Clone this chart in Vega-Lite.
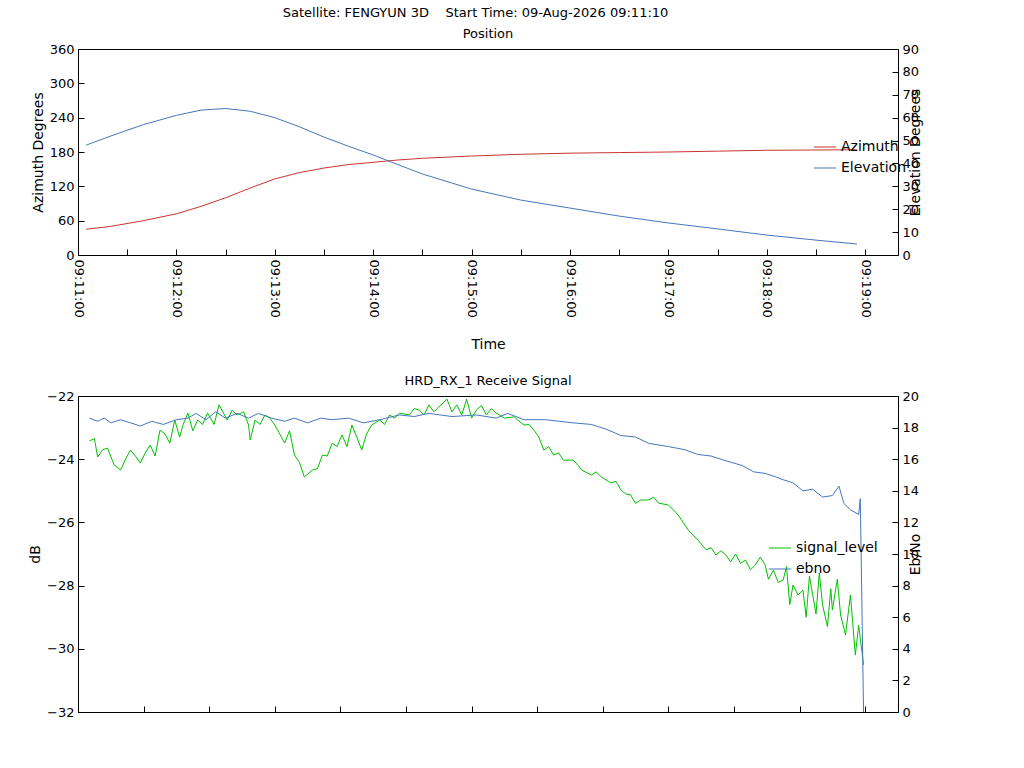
{
  "$schema": "https://vega.github.io/schema/vega-lite/v6.json",
  "background": "white",
  "padding": {"left": 28, "top": 6, "right": 5, "bottom": 0},
  "title": {"text": "Satellite: FENGYUN 3D\u00a0\u00a0\u00a0\u00a0Start Time: 09-Aug-2026 09:11:10", "anchor": "middle", "fontSize": 13, "fontWeight": "normal", "font": "DejaVu Sans", "offset": 8},
  "config": {
    "font": "DejaVu Sans",
    "view": {"stroke": "black", "strokeWidth": 1},
    "axis": {"grid": false, "domain": false, "tickColor": "black", "tickSize": -6, "labelPadding": 10, "labelFontSize": 13, "labelColor": "black", "titleFontSize": 14, "titleFontWeight": "normal", "titleColor": "black"},
    "title": {"fontSize": 13, "fontWeight": "normal", "offset": 2},
    "legend": {"labelFontSize": 14, "symbolType": "stroke", "symbolStrokeWidth": 1, "symbolSize": 500, "labelColor": "black"}
  },
  "datasets": {
    "pos": [
      {"t": 5, "az": 45, "el": 48},
      {"t": 20, "az": 50, "el": 52},
      {"t": 40, "az": 60, "el": 57},
      {"t": 60, "az": 72, "el": 61},
      {"t": 75, "az": 85, "el": 63.3},
      {"t": 90, "az": 100, "el": 64},
      {"t": 105, "az": 117, "el": 62.8},
      {"t": 120, "az": 133, "el": 60},
      {"t": 135, "az": 144, "el": 56},
      {"t": 150, "az": 152, "el": 51.5},
      {"t": 165, "az": 158, "el": 47.5},
      {"t": 180, "az": 162, "el": 43.7},
      {"t": 195, "az": 166, "el": 39.5},
      {"t": 210, "az": 169, "el": 35.4},
      {"t": 240, "az": 173, "el": 28.8},
      {"t": 270, "az": 176, "el": 24},
      {"t": 300, "az": 178, "el": 20.5},
      {"t": 330, "az": 179, "el": 17},
      {"t": 360, "az": 180, "el": 14},
      {"t": 390, "az": 181.5, "el": 11.4},
      {"t": 420, "az": 183, "el": 8.7},
      {"t": 450, "az": 183.5, "el": 6.5},
      {"t": 475, "az": 184, "el": 4.8}
    ],
    "sig": [
      {"t": 7, "db": -23.42}, {"t": 10, "db": -23.35}, {"t": 12, "db": -23.93}, {"t": 15, "db": -23.7}, {"t": 18, "db": -23.65}, {"t": 22, "db": -24.18},
      {"t": 26, "db": -24.34}, {"t": 29, "db": -24.0}, {"t": 32, "db": -23.71}, {"t": 35, "db": -23.9}, {"t": 38, "db": -24.12}, {"t": 41, "db": -23.8}, {"t": 44, "db": -23.55},
      {"t": 47, "db": -23.9}, {"t": 50, "db": -23.08}, {"t": 53, "db": -23.2}, {"t": 56, "db": -23.49}, {"t": 59, "db": -22.76}, {"t": 62, "db": -23.3}, {"t": 64, "db": -22.92},
      {"t": 67, "db": -22.54}, {"t": 70, "db": -23.1}, {"t": 73, "db": -22.76}, {"t": 76, "db": -22.9}, {"t": 79, "db": -22.54}, {"t": 83, "db": -22.9}, {"t": 86, "db": -22.28},
      {"t": 91, "db": -22.76}, {"t": 94, "db": -22.45}, {"t": 97, "db": -22.6}, {"t": 101, "db": -22.5}, {"t": 104, "db": -22.92}, {"t": 105, "db": -23.39},
      {"t": 108, "db": -22.76}, {"t": 111, "db": -22.9}, {"t": 114, "db": -22.6}, {"t": 117, "db": -22.7}, {"t": 120, "db": -22.92}, {"t": 123, "db": -23.2}, {"t": 126, "db": -23.49},
      {"t": 129, "db": -23.1}, {"t": 132, "db": -23.87}, {"t": 135, "db": -24.1}, {"t": 138, "db": -24.56}, {"t": 143, "db": -24.34}, {"t": 146, "db": -24.3}, {"t": 149, "db": -23.87},
      {"t": 152, "db": -23.9}, {"t": 155, "db": -23.49}, {"t": 158, "db": -23.6}, {"t": 161, "db": -23.23}, {"t": 164, "db": -23.6}, {"t": 167, "db": -22.92}, {"t": 170, "db": -23.3}, {"t": 173, "db": -23.71},
      {"t": 176, "db": -23.2}, {"t": 179, "db": -22.92}, {"t": 184, "db": -22.76}, {"t": 187, "db": -22.9}, {"t": 190, "db": -22.6}, {"t": 193, "db": -22.7}, {"t": 196, "db": -22.54},
      {"t": 202, "db": -22.6}, {"t": 205, "db": -22.4}, {"t": 208, "db": -22.44}, {"t": 211, "db": -22.6}, {"t": 214, "db": -22.28}, {"t": 217, "db": -22.5}, {"t": 220, "db": -22.35},
      {"t": 225, "db": -22.1}, {"t": 228, "db": -22.5}, {"t": 231, "db": -22.28}, {"t": 234, "db": -22.6}, {"t": 237, "db": -22.1}, {"t": 240, "db": -22.7}, {"t": 243, "db": -22.44},
      {"t": 246, "db": -22.3}, {"t": 249, "db": -22.6}, {"t": 252, "db": -22.4}, {"t": 255, "db": -22.54}, {"t": 260, "db": -22.7}, {"t": 266, "db": -22.66}, {"t": 269, "db": -22.8}, {"t": 272, "db": -22.92},
      {"t": 275, "db": -22.9}, {"t": 278, "db": -23.08}, {"t": 281, "db": -23.3}, {"t": 284, "db": -23.71}, {"t": 287, "db": -23.6}, {"t": 290, "db": -23.87}, {"t": 293, "db": -23.8}, {"t": 296, "db": -24.03},
      {"t": 302, "db": -24.03}, {"t": 305, "db": -24.2}, {"t": 307, "db": -24.34}, {"t": 313, "db": -24.5}, {"t": 316, "db": -24.4}, {"t": 319, "db": -24.56},
      {"t": 325, "db": -24.75}, {"t": 328, "db": -24.7}, {"t": 331, "db": -24.97}, {"t": 334, "db": -25.1}, {"t": 337, "db": -25.13}, {"t": 340, "db": -25.4}, {"t": 343, "db": -25.29},
      {"t": 348, "db": -25.29}, {"t": 351, "db": -25.2}, {"t": 354, "db": -25.39}, {"t": 360, "db": -25.45}, {"t": 363, "db": -25.6}, {"t": 366, "db": -25.77},
      {"t": 372, "db": -26.24}, {"t": 375, "db": -26.4}, {"t": 378, "db": -26.56}, {"t": 383, "db": -26.87}, {"t": 386, "db": -26.8}, {"t": 389, "db": -27.03},
      {"t": 392, "db": -26.9}, {"t": 395, "db": -27.03}, {"t": 398, "db": -27.25}, {"t": 401, "db": -27.0}, {"t": 404, "db": -27.3}, {"t": 407, "db": -27.19}, {"t": 410, "db": -27.5}, {"t": 413, "db": -27.35},
      {"t": 416, "db": -27.1}, {"t": 419, "db": -27.35}, {"t": 421, "db": -27.8}, {"t": 424, "db": -27.51}, {"t": 427, "db": -27.9}, {"t": 430, "db": -27.82}, {"t": 432, "db": -27.4}, {"t": 434, "db": -28.6},
      {"t": 436, "db": -27.98}, {"t": 439, "db": -28.3}, {"t": 442, "db": -28.14}, {"t": 444, "db": -29.0}, {"t": 446, "db": -27.7}, {"t": 448, "db": -28.3},
      {"t": 450, "db": -28.9}, {"t": 452, "db": -27.6}, {"t": 454, "db": -28.61}, {"t": 457, "db": -29.3}, {"t": 459, "db": -28.1}, {"t": 460, "db": -28.77},
      {"t": 463, "db": -27.8}, {"t": 465, "db": -28.93}, {"t": 468, "db": -29.56}, {"t": 471, "db": -28.3},
      {"t": 474, "db": -30.2}, {"t": 476, "db": -29.25}, {"t": 479, "db": -30.51}
    ],
    "eb": [
      {"t": 7, "ebno": 18.6}, {"t": 12, "ebno": 18.4}, {"t": 16, "ebno": 18.6}, {"t": 20, "ebno": 18.3}, {"t": 26, "ebno": 18.5}, {"t": 32, "ebno": 18.3}, {"t": 38, "ebno": 18.1},
      {"t": 45, "ebno": 18.4}, {"t": 52, "ebno": 18.2}, {"t": 60, "ebno": 18.5}, {"t": 67, "ebno": 18.6}, {"t": 72, "ebno": 18.9}, {"t": 78, "ebno": 18.5}, {"t": 84, "ebno": 19.0},
      {"t": 90, "ebno": 18.6}, {"t": 97, "ebno": 18.9}, {"t": 104, "ebno": 18.6}, {"t": 110, "ebno": 18.9}, {"t": 118, "ebno": 18.6}, {"t": 126, "ebno": 18.4}, {"t": 132, "ebno": 18.6},
      {"t": 140, "ebno": 18.3}, {"t": 148, "ebno": 18.6}, {"t": 155, "ebno": 18.5}, {"t": 165, "ebno": 18.6}, {"t": 174, "ebno": 18.3}, {"t": 184, "ebno": 18.5},
      {"t": 196, "ebno": 18.8}, {"t": 205, "ebno": 18.7}, {"t": 214, "ebno": 18.9}, {"t": 228, "ebno": 18.7}, {"t": 243, "ebno": 18.8}, {"t": 255, "ebno": 18.6}, {"t": 262, "ebno": 18.9}, {"t": 272, "ebno": 18.5},
      {"t": 285, "ebno": 18.5}, {"t": 302, "ebno": 18.3}, {"t": 313, "ebno": 18.2}, {"t": 322, "ebno": 17.9}, {"t": 331, "ebno": 17.5}, {"t": 340, "ebno": 17.4}, {"t": 348, "ebno": 17.0}, {"t": 360, "ebno": 16.8},
      {"t": 370, "ebno": 16.6}, {"t": 378, "ebno": 16.3}, {"t": 386, "ebno": 16.2}, {"t": 395, "ebno": 15.9}, {"t": 405, "ebno": 15.6}, {"t": 412, "ebno": 15.2}, {"t": 419, "ebno": 15.1}, {"t": 425, "ebno": 14.9}, {"t": 430, "ebno": 14.7},
      {"t": 436, "ebno": 14.5}, {"t": 442, "ebno": 14.0}, {"t": 448, "ebno": 14.1}, {"t": 454, "ebno": 13.6}, {"t": 460, "ebno": 13.7}, {"t": 464, "ebno": 14.3}, {"t": 467, "ebno": 13.2}, {"t": 471, "ebno": 12.8}, {"t": 476, "ebno": 12.5},
      {"t": 477, "ebno": 13.5}, {"t": 479, "ebno": 0}
    ]
  },
  "vconcat": [
    {
      "title": "Position",
      "width": 820,
      "height": 206,
      "layer": [
        {
          "data": {"name": "pos"},
          "mark": {"type": "line", "strokeWidth": 1},
          "encoding": {
            "x": {"field": "t", "type": "quantitative", "scale": {"domain": [0, 480]}, "title": "Time",
              "axis": {"values": [0, 30, 60, 90, 120, 150, 180, 210, 240, 270, 300, 330, 360, 390, 420, 450, 480], "labelAngle": 90, "labelAlign": "left", "labelBaseline": "middle",
                "labelExpr": "datum.value % 60 == 0 ? timeFormat(datetime(2026, 7, 9, 9, 11 + datum.value / 60, 0), '%H:%M:%S') : ''", "titlePadding": 20}},
            "y": {"field": "az", "type": "quantitative", "scale": {"domain": [0, 360]}, "title": "Azimuth Degrees",
              "axis": {"values": [0, 60, 120, 180, 240, 300, 360]}},
            "color": {"datum": "Azimuth", "scale": {"domain": ["Azimuth", "Elevation"], "range": ["#cc3333", "#4477bb"]},
              "legend": {"title": null, "orient": "none", "legendX": 735, "legendY": 86, "direction": "vertical"}}
          }
        },
        {
          "data": {"name": "pos"},
          "mark": {"type": "line", "strokeWidth": 1},
          "encoding": {
            "x": {"field": "t", "type": "quantitative"},
            "y": {"field": "el", "type": "quantitative", "scale": {"domain": [0, 90]}, "title": "Elevation Degrees",
              "axis": {"orient": "right", "values": [0, 10, 20, 30, 40, 50, 60, 70, 80, 90], "titleAngle": 270}},
            "color": {"datum": "Elevation"}
          }
        }
      ],
      "resolve": {"scale": {"y": "independent"}}
    },
    {
      "title": "HRD_RX_1 Receive Signal",
      "width": 820,
      "height": 316,
      "layer": [
        {
          "data": {"name": "sig"},
          "mark": {"type": "line", "strokeWidth": 1},
          "encoding": {
            "x": {"field": "t", "type": "quantitative", "scale": {"domain": [0, 480]}, "title": null,
              "axis": {"values": [0, 20, 40, 60, 80, 100, 120, 140, 160, 180, 200, 220, 240, 260, 280, 300, 320, 340, 360, 380, 400, 420, 440, 460, 480], "labels": false}},
            "y": {"field": "db", "type": "quantitative", "scale": {"domain": [-32, -22]}, "title": "dB",
              "axis": {"values": [-32, -30, -28, -26, -24, -22]}},
            "color": {"datum": "signal_level", "scale": {"domain": ["signal_level", "ebno"], "range": ["#00c000", "#4477bb"]},
              "legend": {"title": null, "orient": "none", "legendX": 690, "legendY": 140, "direction": "vertical"}}
          }
        },
        {
          "data": {"name": "eb"},
          "mark": {"type": "line", "strokeWidth": 1},
          "encoding": {
            "x": {"field": "t", "type": "quantitative"},
            "y": {"field": "ebno", "type": "quantitative", "scale": {"domain": [0, 20]}, "title": "Eb/No",
              "axis": {"orient": "right", "values": [0, 2, 4, 6, 8, 10, 12, 14, 16, 18, 20], "titleAngle": 270}},
            "color": {"datum": "ebno"}
          }
        }
      ],
      "resolve": {"scale": {"y": "independent"}}
    }
  ],
  "spacing": 22,
  "resolve": {"scale": {"color": "independent"}, "legend": {"color": "independent"}}
}
